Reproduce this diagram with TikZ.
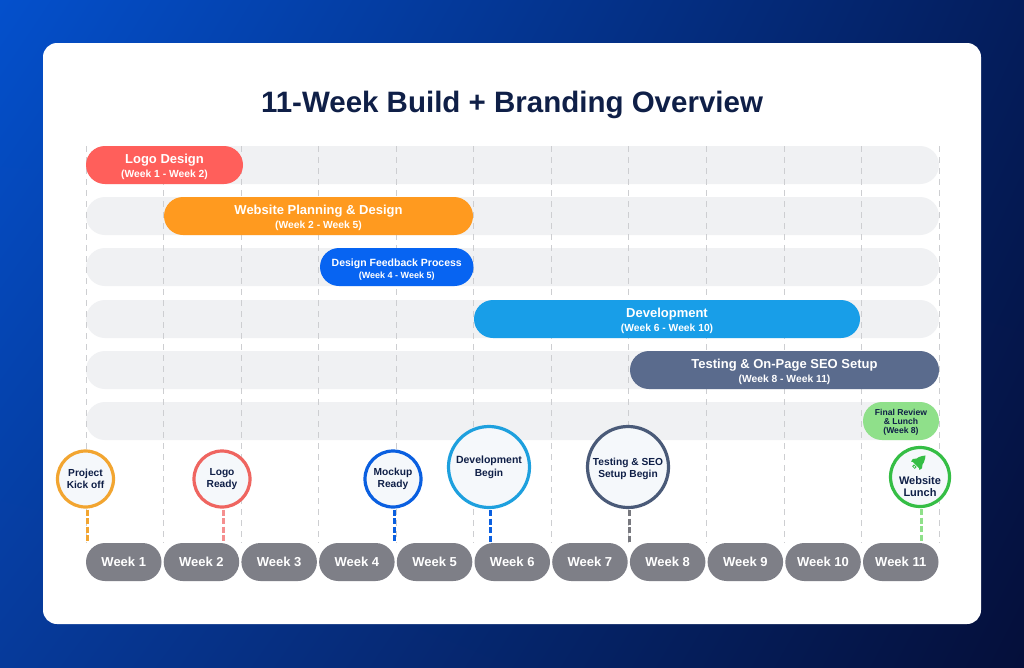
\documentclass[tikz,border=0pt]{standalone}
\usepackage{fontspec}
\setmainfont{Liberation Sans}
\usetikzlibrary{positioning,shadings}
\definecolor{navy}{HTML}{0F1F47}
\definecolor{barbg}{HTML}{F0F1F3}
\definecolor{weekgray}{HTML}{7E7F87}
\definecolor{gridgray}{HTML}{CDCED1}
\definecolor{logored}{HTML}{FF5F5B}
\definecolor{planorange}{HTML}{FF9A1F}
\definecolor{feedblue}{HTML}{0764F2}
\definecolor{devblue}{HTML}{189EE8}
\definecolor{testslate}{HTML}{5A6B8D}
\definecolor{finalgreen}{HTML}{8FE08A}
\definecolor{ringorange}{HTML}{F2A530}
\definecolor{ringred}{HTML}{EF6560}
\definecolor{ringblue}{HTML}{0A5FE0}
\definecolor{ringsky}{HTML}{1EA0DE}
\definecolor{ringslate}{HTML}{4A5A78}
\definecolor{ringgreen}{HTML}{35BE45}
\definecolor{stempink}{HTML}{F58F8F}
\definecolor{stemgray}{HTML}{77787E}
\definecolor{ringfill}{HTML}{F5F8FB}
\definecolor{bgtl}{HTML}{0450CC}
\definecolor{bgtr}{HTML}{041D5C}
\definecolor{bgbl}{HTML}{063A9A}
\definecolor{bgbr}{HTML}{050F3A}
\tikzset{
    pill/.style={rectangle,rounded corners=19pt,minimum height=38pt,inner sep=0pt,align=center,text=white,font=\bfseries},
    rowbar/.style={pill,fill=barbg,minimum width=853pt},
    weekpill/.style={pill,fill=weekgray,minimum width=75.5pt,font=\fontsize{13}{15}\selectfont\bfseries},
    gridline/.style={gridgray,line width=0.8pt,dash pattern=on 6pt off 5pt},
    milestone/.style={circle,draw=#1,line width=3.2pt,fill=ringfill,inner sep=0pt,align=center,text=navy,font=\fontsize{10.2}{12.6}\selectfont\bfseries},
    stem/.style={#1,line width=3pt,dash pattern=on 6pt off 2.5pt}
}
\newcommand{\tasktext}[2]{\rule{0pt}{13pt}{\fontsize{13}{13}\selectfont #1}\\[1.5pt]{\fontsize{10.3}{11}\selectfont #2}}
\begin{document}
\begin{tikzpicture}[x=1pt,y=-1pt]
    \useasboundingbox (0,0) rectangle (1024,667);
    % background and card
    \shade[upper left=bgtl,upper right=bgtr,lower left=bgbl,lower right=bgbr] (0,0) rectangle (1024,667);
    \fill[white,rounded corners=14pt] (43,43) rectangle (981,624);
    \node[text=navy,font=\fontsize{29.5}{34}\selectfont\bfseries] (title) at (512,104.5) {11-Week Build + Branding Overview};
    % empty rows
    \foreach \rowy/\rowname in {165/a,216/b,267/c,319/d,370/e,421/f}
        \node[rowbar] (row\rowname) at (512.5,\rowy) {};
    % week pills
    \foreach \w in {1,...,11}
        \node[weekpill] (week\w) at ({123.75+77.7*(\w-1)},562) {Week \w};
    % grid lines
    \foreach \g in {0,...,11}
        \draw[gridline] ({86+77.55*\g},146) -- ({86+77.55*\g},543);
    % task bars
    \node[pill,fill=logored,minimum width=157pt] (logo) at (164.5,165) {\tasktext{Logo Design}{(Week 1 - Week 2)}};
    \node[pill,fill=planorange,minimum width=309pt] (plan) at (318.5,216) {\tasktext{Website Planning \& Design}{(Week 2 - Week 5)}};
    \node[pill,fill=feedblue,minimum width=153.5pt] (feed) at (396.75,267) {\rule{0pt}{13pt}\fontsize{10.5}{12}\selectfont Design Feedback Process\\[0pt]{\fontsize{9}{10}\selectfont (Week 4 - Week 5)}};
    \node[pill,fill=devblue,minimum width=386pt] (dev) at (667,319) {\tasktext{Development}{(Week 6 - Week 10)}};
    \node[pill,fill=testslate,minimum width=309pt] (test) at (784.5,370) {\tasktext{Testing \& On-Page SEO Setup}{(Week 8 - Week 11)}};
    \node[pill,fill=finalgreen,minimum width=76pt,text=navy,font=\fontsize{8.6}{9}\selectfont\bfseries] (final) at (901,421) {\rule{0pt}{8.5pt}Final Review\\\& Lunch\\(Week 8)};
    % milestones
    \node[milestone=ringorange,minimum size=56pt] (kick) at (85.5,479) {Project\\Kick off};
    \node[milestone=ringred,minimum size=56pt] (ready) at (222,479) {Logo\\Ready};
    \node[milestone=ringblue,minimum size=56pt] (mock) at (393,479) {Mockup\\Ready};
    \node[milestone=ringsky,minimum size=81pt] (begin) at (489,467) {\fontsize{10.5}{12.6}\selectfont Development\\Begin};
    \node[milestone=ringslate,minimum size=81pt] (seo) at (628,467) {\rule{0pt}{11pt}Testing \& SEO\\Setup Begin};
    \node[milestone=ringgreen,minimum size=59pt] (lunch) at (920,477) {};
    \node[text=navy,align=center,font=\fontsize{11}{12.6}\selectfont\bfseries,inner sep=0pt] (lunchtext) at (920,486.5) {Website\\Lunch};
    % rocket icon
    \begin{scope}[shift={(919.5,461.5)},rotate=-45]
        \fill[ringgreen] (-3.9,5) .. controls (-5.6,0) and (-3,-5) .. (0,-8.5) .. controls (3,-5) and (5.6,0) .. (3.9,5) -- cycle;
        \fill[ringgreen] (-4.2,0) -- (-6.5,3) -- (-6,6) -- (-3.4,4.5) -- cycle;
        \fill[ringgreen] (4.2,0) -- (6.5,3) -- (6,6) -- (3.4,4.5) -- cycle;
        \fill[ringgreen] (-1.8,6) rectangle (1.8,8.6);
        \fill[ringfill] (-0.7,6.8) rectangle (0.7,7.8);
    \end{scope}
    % stems
    \draw[stem=ringorange] (kick.south -| 87,0) ++(0,1) -- (87,543);
    \draw[stem=stempink] (ready.south -| 223.5,0) ++(0,1) -- (223.5,543);
    \draw[stem=ringblue] (mock.south -| 394.5,0) ++(0,1) -- (394.5,543);
    \draw[stem=ringblue] (begin.south -| 490.5,0) ++(0,1) -- (490.5,543);
    \draw[stem=stemgray] (seo.south -| 629.5,0) ++(0,1) -- (629.5,543);
    \draw[stem=finalgreen] (lunch.south -| 921.5,0) ++(0,1) -- (921.5,543);
\end{tikzpicture}
\end{document}
